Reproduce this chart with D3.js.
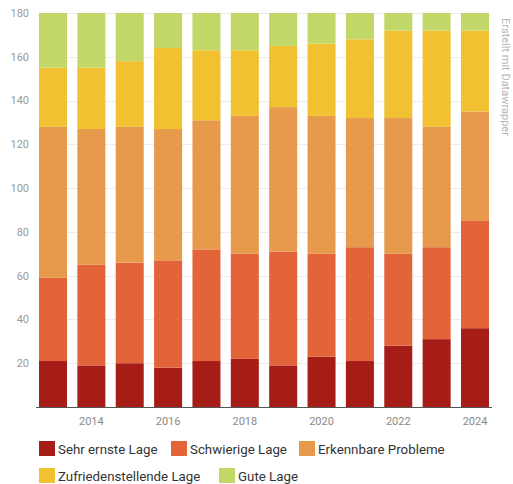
<!DOCTYPE html>
<html>
<head>
<meta charset="utf-8">
<script src="https://cdn.jsdelivr.net/npm/d3@7"></script>
<style>
  body { margin: 0; background: #fff; font-family: Roboto, "Noto Sans", sans-serif; }
  svg { display: block; }
</style>
</head>
<body>
<div id="chart"></div>
<script>
// years on the x axis
const years = [2013, 2014, 2015, 2016, 2017, 2018, 2019, 2020, 2021, 2022, 2023, 2024];
const tickYears = [2014, 2016, 2018, 2020, 2022, 2024];
const yTicks = [20, 40, 60, 80, 100, 120, 140, 160, 180];

// series values, bottom to top
const sehrErnste = [21, 19, 20, 18, 21, 22, 19, 23, 21, 28, 31, 36];
const schwierige = [38, 46, 46, 49, 51, 48, 52, 47, 52, 42, 42, 49];
const erkennbare = [69, 62, 62, 60, 59, 63, 66, 63, 59, 62, 55, 50];
const zufrieden = [27, 28, 30, 37, 32, 30, 28, 33, 36, 40, 44, 37];
const gute = [25, 25, 22, 16, 17, 17, 15, 14, 12, 8, 8, 8];

const seriesNames = ['Sehr ernste Lage', 'Schwierige Lage', 'Erkennbare Probleme', 'Zufriedenstellende Lage', 'Gute Lage'];
const seriesColors = ['#a61d18', '#e4643a', '#e79a4c', '#f1c131', '#c1d868'];
const seriesValues = [sehrErnste, schwierige, erkennbare, zufrieden, gute];

const width = 513, height = 484;
const margin = { top: 13, right: 24, bottom: 77, left: 39 };

const svg = d3.select('#chart').append('svg')
    .attr('width', width)
    .attr('height', height);

const rows = years.map((year, i) => {
    let row = { year };
    seriesNames.forEach((name, s) => { row[name] = seriesValues[s][i]; });
    return row;
});

const stacked = d3.stack().keys(seriesNames)(rows);

const x = d3.scaleBand()
    .domain(years)
    .range([margin.left, width - margin.right])
    .paddingInner(0.27)
    .paddingOuter(0);

const y = d3.scaleLinear()
    .domain([0, 180])
    .range([height - margin.bottom, margin.top]);

// gridlines
svg.append('g')
    .selectAll('line')
    .data(yTicks)
    .join('line')
    .attr('x1', margin.left)
    .attr('x2', width - margin.right)
    .attr('y1', d => Math.round(y(d)) + 0.5)
    .attr('y2', d => Math.round(y(d)) + 0.5)
    .attr('stroke', '#ececec')
    .attr('stroke-width', 1);

// y labels
svg.append('g')
    .selectAll('text')
    .data(yTicks)
    .join('text')
    .attr('x', 29)
    .attr('y', d => y(d))
    .attr('dy', '0.35em')
    .attr('text-anchor', 'end')
    .attr('fill', '#9a9a9a')
    .style('font-size', '11px')
    .text(d => d);

// bars
svg.append('g')
    .selectAll('g')
    .data(stacked)
    .join('g')
    .attr('fill', (d, i) => seriesColors[i])
    .selectAll('rect')
    .data(d => d)
    .join('rect')
    .attr('x', d => x(d.data.year))
    .attr('width', x.bandwidth())
    .attr('y', d => y(d[1]))
    .attr('height', d => y(d[0]) - y(d[1]));

// x axis
const xAxis = svg.append('g')
    .attr('transform', `translate(0,${y(0)})`)
    .call(d3.axisBottom(x).tickValues(tickYears).tickSize(0).tickPadding(10));
xAxis.select('.domain').remove();
xAxis.selectAll('text')
    .attr('fill', '#8a8a8a')
    .style('font-size', '11px')
    .style('font-family', 'Roboto, sans-serif');

svg.append('line')
    .attr('x1', margin.left - 3)
    .attr('x2', width - margin.right + 3)
    .attr('y1', Math.round(y(0)) + 0.5)
    .attr('y2', Math.round(y(0)) + 0.5)
    .attr('stroke', '#555')
    .attr('stroke-width', 1);

// credit
svg.append('text')
    .attr('transform', 'translate(502,18) rotate(90)')
    .attr('fill', '#b5b5b5')
    .style('font-size', '11px')
    .text('Erstellt mit Datawrapper');

// legend
const legendRows = [
    [{ s: 0, x: 39 }, { s: 1, x: 171 }, { s: 2, x: 299 }],
    [{ s: 3, x: 39 }, { s: 4, x: 219 }]
];
const legendY = [449, 476];

legendRows.forEach((items, r) => {
    items.forEach(item => {
        let g = svg.append('g')
            .attr('transform', `translate(${item.x},${legendY[r]})`);
        g.append('rect')
            .attr('x', 0)
            .attr('y', -8)
            .attr('width', 16)
            .attr('height', 15)
            .attr('fill', seriesColors[item.s]);
        g.append('text')
            .attr('x', 19)
            .attr('y', 0)
            .attr('dy', '0.35em')
            .attr('fill', '#333')
            .style('font-size', '13.3px')
            .text(seriesNames[item.s]);
    });
});
</script>
</body>
</html>
